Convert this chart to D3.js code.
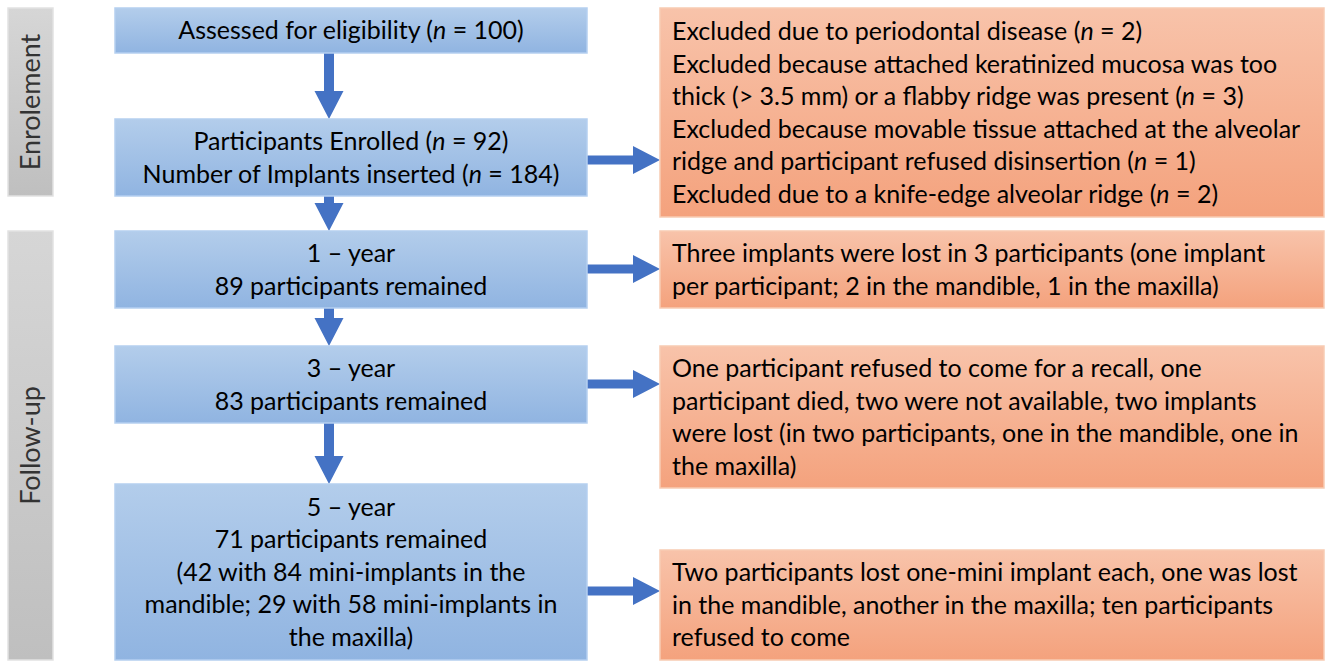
<!DOCTYPE html>
<head>
    <meta charset="utf-8">
    <title>Flow chart</title>
    <style>
        body { margin: 0; background: #fff; }
        text { font-family: Lato, "Open Sans", sans-serif; fill: #000; }
    </style>
</head>
<body>

<svg width="1326" height="661"></svg>

<script src="https://cdn.jsdelivr.net/npm/d3@7"></script>

<script>

    // text of each stage box (left column); "*n*" marks an italic n
    var stageLines = [
        ["Assessed for eligibility (*n* = 100)"],
        ["Participants Enrolled (*n* = 92)", "Number of Implants inserted (*n* = 184)"],
        ["1 \u2013 year", "89 participants remained"],
        ["3 \u2013 year", "83 participants remained"],
        ["5 \u2013 year", "71 participants remained", "(42 with 84 mini-implants in the",
         "mandible; 29 with 58 mini-implants in", "the maxilla)"]
    ];

    // text of the side boxes (right column), index of the stage they hang off
    var lossStage = [1, 2, 3, 4];
    var lossLines = [
        ["Excluded due to periodontal disease (*n* = 2)",
         "Excluded because attached keratinized mucosa was too",
         "thick (> 3.5 mm) or a flabby ridge was present (*n* = 3)",
         "Excluded because movable tissue attached at the alveolar",
         "ridge and participant refused disinsertion (*n* = 1)",
         "Excluded due to a knife-edge alveolar ridge (*n* = 2)"],
        ["Three implants were lost in 3 participants (one implant",
         "per participant; 2 in the mandible, 1 in the maxilla)"],
        ["One participant refused to come for a recall, one",
         "participant died, two were not available, two implants",
         "were lost (in two participants, one in the mandible, one in",
         "the maxilla)"],
        ["Two participants lost one-mini implant each, one was lost",
         "in the mandible, another in the maxilla; ten participants",
         "refused to come"]
    ];

    // phase labels and which stages they group
    var phases = ["Enrolement", "Follow-up"];
    var phaseStages = [[0, 1], [2, 4]];

    // ---- layout ----
    var svg = d3.select("svg");

    var stageTop = [8, 119, 231, 346, 484];
    var stageBottom = [53, 196, 308, 423, 660];
    var lossTop = [8, 231, 346, 550];
    var lossBottom = [217, 308, 488, 660];
    var phaseTop = [8, 231], phaseBottom = [196, 660];

    var colX = { phase0: 8, phase1: 53, box0: 115, box1: 587, loss0: 660, loss1: 1324, arrow: 329 };

    var lineH = 32.5;
    var fontSize = 25;

    var defs = svg.append("defs");
    function grad(id, c0, c1) {
        var g = defs.append("linearGradient").attr("id", id)
            .attr("x1", 0).attr("y1", 0).attr("x2", 0).attr("y2", 1);
        g.append("stop").attr("offset", "0%").attr("stop-color", c0);
        g.append("stop").attr("offset", "100%").attr("stop-color", c1);
    }
    grad("gBlue", "#b3cdeb", "#90b4e1");
    grad("gOrange", "#f8c3aa", "#f4a27d");
    grad("gGray", "#d6d6d6", "#bfbfbf");

    function addLines(sel, lines, tx, anchor, cy) {
        var y0 = cy - (lines.length - 1) * lineH / 2;
        lines.forEach(function(l, i) {
            var t = sel.append("text")
                .attr("x", tx)
                .attr("y", y0 + i * lineH)
                .attr("dy", "0.35em")
                .attr("text-anchor", anchor)
                .style("font-size", fontSize + "px");
            l.split("*").forEach(function(part, j) {
                if (!part.length) return;
                t.append("tspan").text(part)
                    .style("font-style", j % 2 ? "italic" : "normal");
            });
        });
    }

    // phase bars
    var ph = svg.append("g").attr("class", "phases");
    phases.forEach(function(p, i) {
        ph.append("rect")
            .attr("x", colX.phase0).attr("y", phaseTop[i])
            .attr("width", colX.phase1 - colX.phase0)
            .attr("height", phaseBottom[i] - phaseTop[i])
            .attr("fill", "url(#gGray)")
            .attr("stroke", "#e2e2e2").attr("stroke-width", 1.5);
        var cy = (phaseTop[i] + phaseBottom[i]) / 2;
        ph.append("text")
            .attr("transform", "translate(" + ((colX.phase0 + colX.phase1) / 2) + "," + cy + ") rotate(-90)")
            .attr("text-anchor", "middle")
            .attr("dy", "0.35em")
            .style("font-size", "27px")
            .style("fill", "#333")
            .text(p);
    });

    // arrows
    var arrowColor = "#4472c4";
    var arrows = svg.append("g").attr("class", "arrows");
    function vArrow(y0, y1) {
        var cx = colX.arrow, sw = 5, hw = 14.5, hh = 28;
        arrows.append("path")
            .attr("d", "M" + (cx - sw) + "," + y0 + "V" + (y1 - hh) + "H" + (cx - hw) +
                "L" + cx + "," + y1 + "L" + (cx + hw) + "," + (y1 - hh) + "H" + (cx + sw) + "V" + y0 + "Z")
            .attr("fill", arrowColor);
    }
    function hArrow(cy) {
        var x0 = colX.box1, x1 = colX.loss0, sw = 4.5, hw = 14, hh = 27;
        arrows.append("path")
            .attr("d", "M" + x0 + "," + (cy - sw) + "H" + (x1 - hh) + "V" + (cy - hw) +
                "L" + x1 + "," + cy + "L" + (x1 - hh) + "," + (cy + hw) + "V" + (cy + sw) + "H" + x0 + "Z")
            .attr("fill", arrowColor);
    }
    for (var i = 0; i < stageLines.length - 1; i++) {
        vArrow(stageBottom[i], stageTop[i + 1]);
    }
    var hArrowY = [160, 269, 384, 591];
    lossStage.forEach(function(s, i) { hArrow(hArrowY[i]); });

    // stage boxes
    var st = svg.append("g").attr("class", "stages");
    stageLines.forEach(function(lines, i) {
        st.append("rect")
            .attr("x", colX.box0).attr("y", stageTop[i])
            .attr("width", colX.box1 - colX.box0)
            .attr("height", stageBottom[i] - stageTop[i])
            .attr("fill", "url(#gBlue)")
            .attr("stroke", "#b5cff0").attr("stroke-width", 1.5);
        addLines(st, lines, (colX.box0 + colX.box1) / 2, "middle",
            (stageTop[i] + stageBottom[i]) / 2);
    });

    // loss boxes
    var ls = svg.append("g").attr("class", "losses");
    lossLines.forEach(function(lines, i) {
        ls.append("rect")
            .attr("x", colX.loss0).attr("y", lossTop[i])
            .attr("width", colX.loss1 - colX.loss0)
            .attr("height", lossBottom[i] - lossTop[i])
            .attr("fill", "url(#gOrange)")
            .attr("stroke", "#f8cbb3").attr("stroke-width", 1.5);
        addLines(ls, lines, colX.loss0 + 12, "start",
            (lossTop[i] + lossBottom[i]) / 2);
    });

</script>

</body>
